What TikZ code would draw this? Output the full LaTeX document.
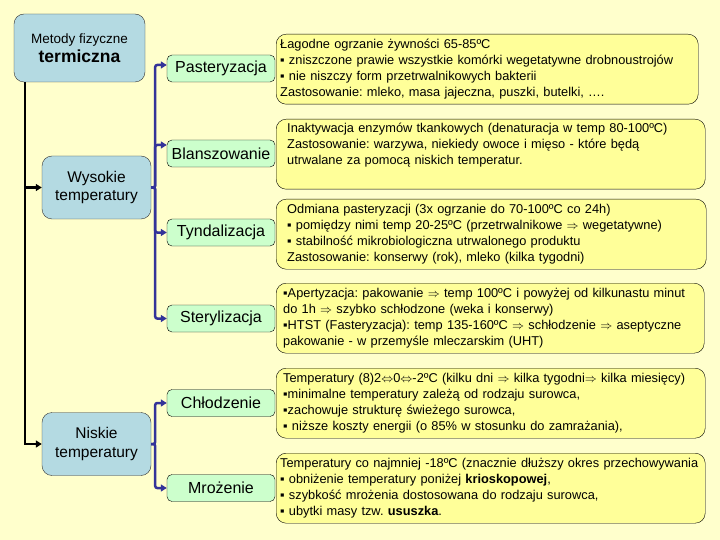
\documentclass[tikz,border=0pt]{standalone}
\usepackage{fontspec}
\setmainfont{Liberation Sans}
\usepackage{tikz}
\usetikzlibrary{arrows.meta,positioning}
\definecolor{tlo}{RGB}{255,255,204}
\definecolor{opiscol}{RGB}{255,255,153}
\definecolor{metcol}{RGB}{204,255,204}
\definecolor{grupcol}{RGB}{180,218,226}
\definecolor{linia}{RGB}{51,51,153}
\newcommand{\imp}{$\Rightarrow$}
\frenchspacing

\begin{document}
\begin{tikzpicture}[x=1pt,y=-1pt,
  grupa/.style={draw=black!80,fill=grupcol,rounded corners=10pt,align=center,
    font=\fontsize{15.5}{18.5}\selectfont,minimum width=109pt,minimum height=63pt,inner sep=2pt},
  metoda/.style={draw=black,fill=metcol,rounded corners=5pt,
    font=\fontsize{16}{19}\selectfont,minimum width=108pt,minimum height=27pt,inner sep=1pt},
  opis/.style={draw=black,fill=opiscol,rounded corners=10pt,anchor=north west,align=left,
    font=\fontsize{12.8}{16}\selectfont,minimum height=70pt,inner ysep=0pt},
  czarna/.style={line width=2.5pt,-{Triangle[length=6pt,width=7pt]}},
  niebieska/.style={linia,line width=2.5pt,rounded corners=2pt,-{Triangle[length=6pt,width=7pt]}}]
  \fill[tlo] (0,0) rectangle (720,540);
  \useasboundingbox (0,0) rectangle (720,540);
  % ---------------- groups (left column) ----------------
  \node[grupa,minimum width=131pt,minimum height=68pt] (metody) at (79.5,48)
      {\fontsize{13.5}{16}\selectfont Metody fizyczne\\[1pt]
       \fontsize{17.5}{20}\selectfont\bfseries termiczna};
  \node[grupa] (wys) at (96.5,187.5) {Wysokie\\temperatury};
  \node[grupa] (nisk) at (96.5,444) {Niskie\\temperatury};
  % ---------------- descriptions (right column) ----------------
  \node[opis,text width=414pt,inner xsep=4pt] (opPast) at (276,34)
      {Łagodne ogrzanie żywności 65-85ºC\\
       ▪ zniszczone prawie wszystkie komórki wegetatywne drobnoustrojów\\
       ▪ nie niszczy form przetrwalnikowych bakterii\\
       Zastosowanie: mleko, masa jajeczna, puszki, butelki, ….};
  \node[opis,text width=407pt,inner xsep=11pt] (opBlan) at (276,119)
      {Inaktywacja enzymów tkankowych (denaturacja w temp 80-100ºC)\\
       Zastosowanie: warzywa, niekiedy owoce i mięso - które będą\\
       utrwalane za pomocą niskich temperatur.\\ \strut};
  \node[opis,text width=408pt,inner xsep=11pt] (opTynd) at (276,199)
      {Odmiana pasteryzacji (3x ogrzanie do 70-100ºC co 24h)\\
       ▪ pomiędzy nimi temp 20-25ºC (przetrwalnikowe \imp{} wegetatywne)\\
       ▪ stabilność mikrobiologiczna utrwalonego produktu\\
       Zastosowanie: konserwy (rok), mleko (kilka tygodni)};
  \node[opis,text width=414pt,inner xsep=7pt] (opSter) at (276,283)
      {▪Apertyzacja: pakowanie \imp{} temp 100ºC i powyżej od kilkunastu minut\\
       do 1h \imp{} szybko schłodzone (weka i konserwy)\\
       ▪HTST (Fasteryzacja): temp 135-160ºC \imp{} schłodzenie \imp{} aseptyczne\\
       pakowanie - w przemyśle mleczarskim (UHT)};
  \node[opis,text width=415pt,inner xsep=7pt] (opChlo) at (276,368)
      {Temperatury (8)2$\Leftrightarrow$0$\Leftrightarrow$-2ºC (kilku dni \imp{} kilka tygodni\imp{} kilka miesięcy)\\
       ▪minimalne temperatury zależą od rodzaju surowca,\\
       ▪zachowuje strukturę świeżego surowca,\\
       ▪ niższe koszty energii (o 85\% w stosunku do zamrażania),};
  \node[opis,text width=421pt,inner xsep=4pt] (opMroz) at (276,453)
      {Temperatury co najmniej -18ºC (znacznie dłuższy okres przechowywania\\
       ▪ obniżenie temperatury poniżej \textbf{krioskopowej},\\
       ▪ szybkość mrożenia dostosowana do rodzaju surowca,\\
       ▪ ubytki masy tzw. \textbf{ususzka}.};
  % ---------------- methods (middle column) ----------------
  \node[metoda] (past) at (221,68.5) {Pasteryzacja};
  \node[metoda] (blan) at (221,153.5) {Blanszowanie};
  \node[metoda] (tynd) at (221,232.5) {Tyndalizacja};
  \node[metoda] (ster) at (221,318.5) {Sterylizacja};
  \node[metoda] (chlo) at (221,403) {Chłodzenie};
  \node[metoda] (mroz) at (221,488) {Mrożenie};
  % ---------------- connectors ----------------
  \draw[czarna] ([xshift=11pt]metody.south west) |- (nisk.west);
  \draw[czarna] ([xshift=11pt]metody.south west) |- (wys.west);
  \draw[niebieska] (wys.east) -- ++(4,0) |- ([yshift=3.5pt]past.west);
  \draw[niebieska] (wys.east) -- ++(4,0) |- ([yshift=8.5pt]blan.west);
  \draw[niebieska] (wys.east) -- ++(4,0) |- (tynd.west);
  \draw[niebieska] (wys.east) -- ++(4,0) |- (ster.west);
  \draw[niebieska] (nisk.east) -- ++(4,0) |- (chlo.west);
  \draw[niebieska] (nisk.east) -- ++(4,0) |- (mroz.west);
\end{tikzpicture}
\end{document}
